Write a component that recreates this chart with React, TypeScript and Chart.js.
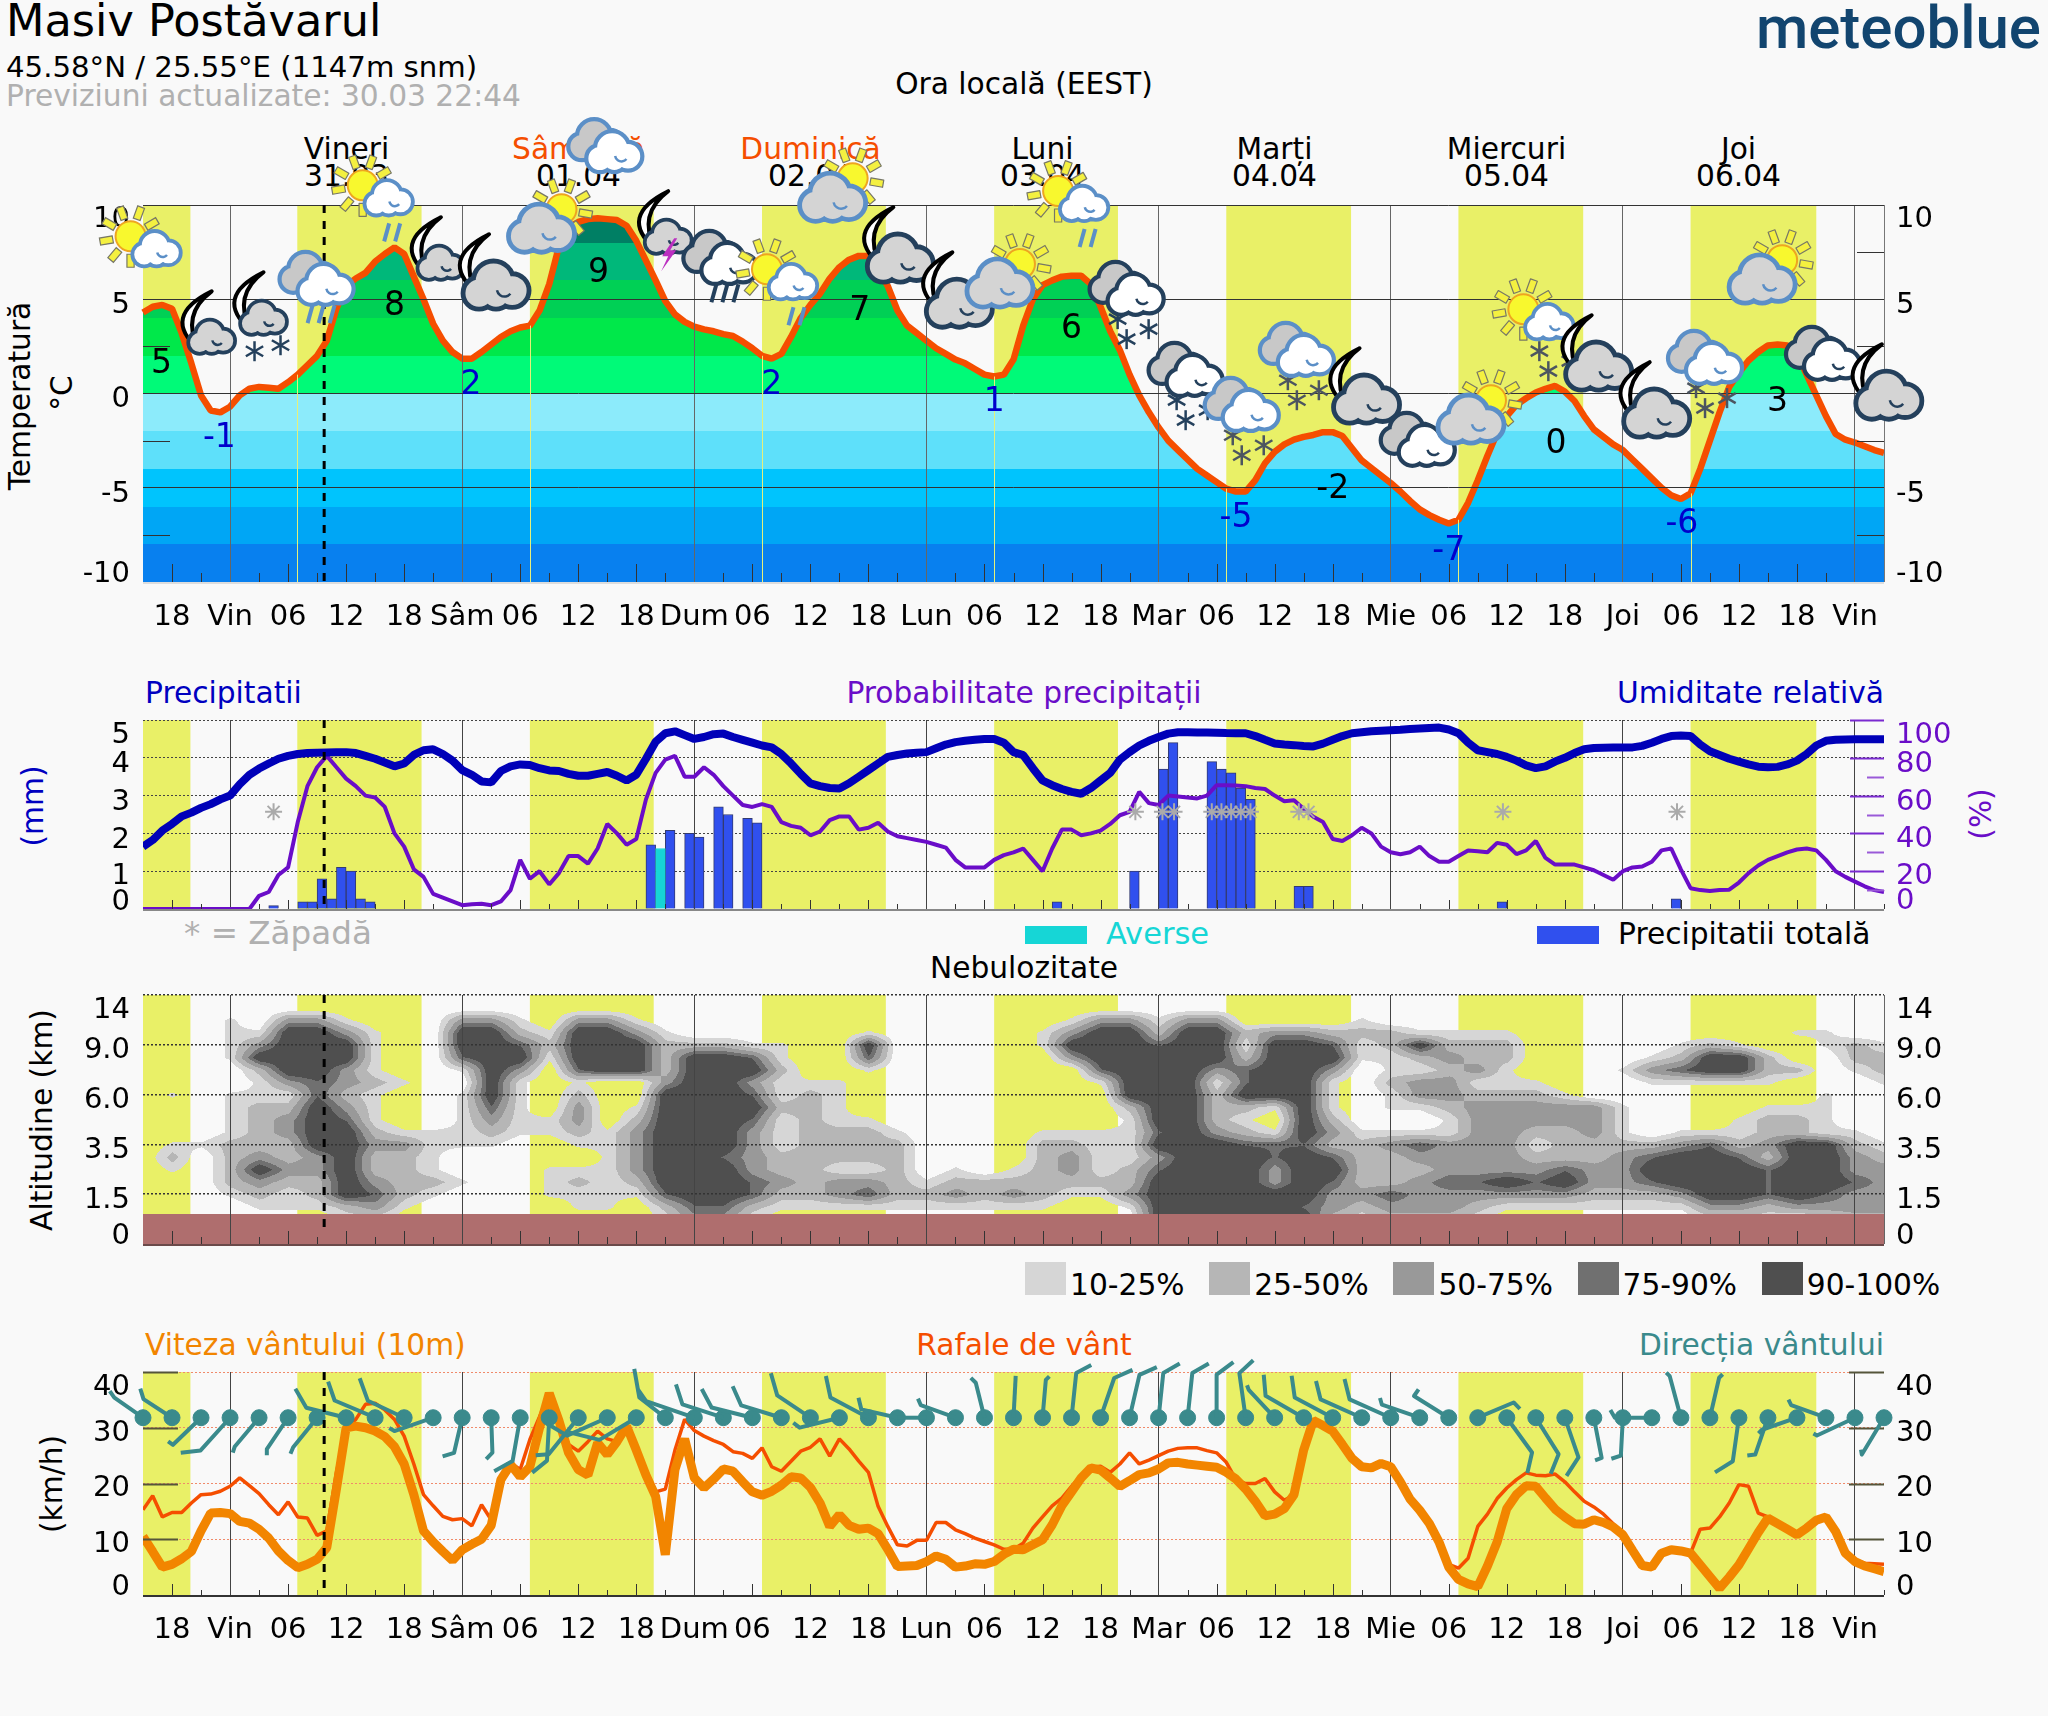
import React, { useEffect, useRef } from "react";
import { Chart, registerables } from "chart.js";
Chart.register(...registerables);

const hours: number[] = [];
for (let h = -9; h <= 171; h++) hours.push(h);

const dayBands = [[-9, -4.1], [6.95, 19.8], [31, 43.8], [55, 67.8], [79, 91.8], [103, 115.9], [127, 139.9], [151, 164]];
const nowHour = 9.73;
const xTickLabels = ["18", "Vin", "06", "12", "18", "Sâm", "06", "12", "18", "Dum", "06", "12", "18", "Lun", "06", "12", "18", "Mar", "06", "12", "18", "Mie", "06", "12", "18", "Joi", "06", "12", "18", "Vin"];

const temperature = [
  4.3, 4.6, 4.7, 4.5, 3.2, 1.6, -0.1, -0.9, -1.0, -0.7,
  -0.1, 0.25, 0.35, 0.3, 0.25, 0.6, 1.0, 1.5, 2.0, 2.8,
  4.5, 5.7, 6.1, 6.4, 7.0, 7.4, 7.75, 7.4, 6.2, 5.0,
  3.7, 2.8, 2.2, 1.85, 1.85, 2.2, 2.6, 3.0, 3.3, 3.5,
  3.6, 4.4, 5.8, 7.8, 8.8, 9.1, 9.25, 9.3, 9.25, 9.2,
  8.9, 8.1, 7.05, 6.0, 4.9, 4.2, 3.8, 3.55, 3.4, 3.3,
  3.15, 3.05, 2.75, 2.4, 2.0, 1.85, 2.1, 3.0, 4.0, 4.7,
  5.3, 6.1, 6.7, 7.1, 7.3, 7.3, 6.6, 5.7, 4.4, 3.6,
  3.2, 2.8, 2.4, 2.1, 1.8, 1.6, 1.3, 1.0, 0.9, 1.0,
  1.8, 3.6, 5.0, 5.75, 6.0, 6.2, 6.25, 6.25, 5.8, 4.6,
  3.3, 2.3, 1.0, -0.1, -1.0, -1.8, -2.5, -3.0, -3.5, -4.0,
  -4.35, -4.7, -5.05, -5.2, -5.2, -4.6, -3.7, -3.1, -2.7, -2.45,
  -2.3, -2.2, -2.05, -2.05, -2.25, -2.9, -3.55, -3.95, -4.35, -4.75,
  -5.2, -5.7, -6.15, -6.45, -6.7, -6.9, -6.7, -5.8, -4.6, -3.3,
  -2.1, -1.2, -0.6, -0.25, 0.05, 0.25, 0.4, 0.1, -0.4, -1.2,
  -1.9, -2.3, -2.7, -3.0, -3.5, -4.0, -4.5, -5.0, -5.4, -5.6,
  -5.3, -4.0, -2.5, -1.0, 0.35, 1.1, 1.75, 2.2, 2.55, 2.6,
  2.55, 2.1, 1.0, -0.1, -1.2, -2.15, -2.45, -2.6, -2.8, -3.0, -3.15,
];
const tempBandEdges = [-10, -8, -6, -4, -2, 0, 2, 4, 6, 8, 10];
const tempBandColors = ["#0880ef", "#00a6f5", "#00c4fd", "#5ee0fa", "#8cebfb", "#00fa78", "#00e84a", "#00d055", "#00b87a", "#007f64"];
const tempTickLabels = ["10", "5", "0", "-5", "-10"];
const tempLabelAt = [9.21, 4.65, -0.34, -5.34, -9.61];
const tempMinor = [7.5, 2.5, -2.5, -7.5];

const extremeHours = [-7.1, -1.1, 17, 24.9, 38.1, 56, 65.1, 79, 87, 104, 114, 126, 137.1, 150.1, 160];
const extremeText = ["5", "-1", "8", "2", "9", "2", "7", "1", "6", "-5", "-2", "-7", "0", "-6", "3"];
const extremeAt = [1.56, -2.39, 4.64, 0.45, 6.36, 0.45, 4.37, -0.46, 3.39, -6.64, -5.07, -8.36, -2.68, -6.96, -0.46];
const extremeIsLow = [0, 1, 0, 1, 0, 1, 0, 1, 0, 1, 0, 1, 0, 1, 0];

const iconHours = [-7.6, -1.9, 3.46, 9.05, 16.4, 21.8, 27.5, 32.2, 38.9, 45.3, 50.8, 58.2, 62.3, 69.3, 75.4, 79.6, 88.3, 92.8, 98.9, 104.7, 110.4, 117.5, 122.9, 128.3, 136.4, 141.5, 147.5, 152.6, 158.4, 164.8, 171.5];
const iconTemps = [7.6, 2.93, 3.94, 5.96, 10.3, 6.86, 5.64, 8.66, 13, 8.24, 7.07, 5.85, 10.3, 7.07, 4.68, 5.75, 10, 5.43, 1.13, -0.73, 2.19, -0.41, -2.58, -1.47, 3.73, 1.34, -1.15, 1.77, 5.96, 1.98, -0.2];
const iconKinds = ["sunSmall", "moonS", "moonS", "dblBlue", "sunSmall", "moonS", "moon", "sunGrey", "dblBlue", "moonS", "dblDark", "sunSmall", "sunGrey", "moon", "moon", "sunGrey", "sunSmall", "dblDark", "dblDark", "dblBlue", "dblBlue", "moon", "dblDark", "sunGrey", "sunSmall", "moon", "moon", "dblBlue", "sunGrey", "dblDark", "moon"];
const iconWeather = ["", "", "snow2", "rain3", "rain2", "", "", "", "", "bolt", "rain3", "rain2", "", "", "", "", "rain2", "snow", "snow", "snow", "snow", "", "", "", "snow", "", "", "snow", "", "", ""];

const humidity = [
  33, 36.5, 41.5, 45, 49, 51, 53.5, 55.5, 58, 60,
  66, 71, 74.3, 77, 79.5, 81, 82, 82.5, 82.7, 82.8,
  82.9, 83, 82.5, 81, 79.5, 77.5, 75.5, 77, 81.5, 84,
  84.5, 82, 78.5, 73.5, 71, 67.5, 67, 73, 75.5, 76.5,
  76.2, 74.5, 73.3, 73, 71.5, 70.5, 70.5, 71.5, 72.5, 70.5,
  68, 71, 79.5, 88.5, 93, 94, 92, 90, 91, 92.5,
  92.8, 91, 89.5, 88, 86.5, 85.5, 82, 77, 71.5, 66.5,
  65, 64, 63.8, 66.5, 70, 73.5, 77, 80.5, 81.5, 82.3,
  82.7, 83, 85, 87, 88.3, 89, 89.5, 90, 90, 88,
  83, 81.4, 74.5, 68, 65.5, 63.5, 62, 61, 64, 68,
  72, 79, 83, 86.5, 89, 91, 92.8, 93.5, 93.5, 93.4,
  93.4, 93.3, 93.1, 93, 93, 91.5, 89.5, 87.6, 87, 86.7,
  86.3, 86, 87.5, 89.5, 91.5, 93, 93.5, 94, 94.3, 94.6,
  94.8, 95.2, 95.5, 95.8, 96, 95, 93, 88, 84, 83,
  82, 80.5, 78.5, 76, 74.5, 75.5, 78, 80, 82.5, 84.5,
  85.2, 85.3, 85.4, 85.4, 85.5, 86.3, 88, 90, 91.5, 91.8,
  91.5, 87, 83.5, 81.5, 79.5, 78, 76.5, 75.3, 75, 75.2,
  76.5, 78.5, 82, 86.5, 89, 89.5, 89.7, 89.8, 89.8, 89.8, 89.8,
];
const precipProb = [
  0, 0, 0, 0, 0, 0, 0, 0, 0, 0,
  0, 0, 7, 9, 18, 22, 46, 65, 75, 81,
  75, 69, 65, 60, 59, 54, 40, 33, 21, 17,
  8, 6, 4, 2, 2.5, 2.8, 2, 4, 10, 26,
  16, 20, 13, 19, 28, 28, 24, 32, 45, 40,
  34, 37, 58, 72, 79, 81, 70, 70, 75, 71,
  65, 60, 55, 54, 55.5, 54, 46, 44, 43, 39,
  41, 47, 49, 49, 42, 43, 45.6, 41, 38.5, 37.5,
  36.5, 35.5, 34, 32.5, 26, 22, 22, 22, 26, 28.5,
  30, 32, 26, 20, 32, 42, 42, 39, 40, 41.5,
  45, 49.6, 51.4, 62, 56, 55, 60, 59.5, 59, 58.5,
  60, 65.5, 65.5, 65.3, 65, 64, 63.5, 60, 57, 57.5,
  53, 48.8, 46, 37, 36, 39, 43, 40, 33, 30,
  29, 30, 33, 28, 25, 25, 28, 31, 30.5, 30,
  35, 34, 29, 31, 36, 27, 23.5, 23.5, 23.5, 22,
  20.5, 18, 15.5, 20, 22, 22.5, 25, 31, 32, 21,
  11, 10, 9.5, 10, 10.2, 14, 19, 23, 26, 28,
  30, 31.5, 32, 31, 26, 20, 17, 14.5, 12, 10, 9,
];
const precipHours = [4, 7, 8, 9, 10, 11, 12, 13, 14, 43, 45, 47, 48, 50, 51, 53, 54, 85, 93, 96, 97, 101, 102, 103, 104, 105, 110, 111, 131, 149];
const precipMm = [0.09, 0.19, 0.19, 0.8, 0.27, 1.1, 1.0, 0.27, 0.19, 1.7, 2.08, 2.0, 1.9, 2.7, 2.5, 2.4, 2.28, 0.19, 1.0, 3.7, 4.4, 3.9, 3.7, 3.6, 3.2, 2.9, 0.6, 0.6, 0.19, 0.27];
const showerHours = [44];
const showerMm = [1.6];
const snowHours = [4.5, 93.6, 96.4, 97.6, 101.5, 102.5, 103.5, 104.5, 105.5, 110.5, 111.5, 131.6, 149.6];
const snowMark = 2.57;
const mmTickLabels = ["5", "4", "3", "2", "1", "0"];
const mmLabelAt = [4.59, 3.83, 2.81, 1.81, 0.85, 0.18];
const pctTickLabels = ["100", "80", "60", "40", "20", "0"];
const pctLabelAt = [91.9, 76.6, 56.6, 36.6, 17, 4.1];
const pctMajor = [100, 80, 60, 40, 20];
const pctMinor = [70, 50, 30, 10];

// cloud cover class per 3h column (61) and altitude row (19, top to bottom)
const cloudClass = [
  "0000000000000000000000000000000000000000000000000000000000000",
  "0000000000000000000000000000000000000000000000000000000000000",
  "000.033100033103310000000000000" + "013313300001000000000000000000",
  "00011553.0055215531000000.00000" + ".355255233222111.000000000.100",
  "000.35551005542555222" + "1.0050000" + "0" + "155545515541252220000012100121",
  "000155551004551555255410040000" + "0" + "035555525551123220000125520022",
  "000025531001530455255520010000" + "0" + "004555345530" + "1.2310001345522012",
  "000013432.00510100355311100000" + "0" + "0015551455" + "1023311100" + "011111000.",
  "0.0.1142.00.510200555412100000" + "0" + "0005552555" + "1013322210" + "0000000.00",
  "00012253100.410301555522100000" + "0" + "0002552215" + "10.1233333" + "1000011.00",
  "00012354100131.302555412110000" + "0" + "000.552105" + "2000133333" + "1000122.00",
  "0001235521.121.213555312221000" + "0" + "1111453215" + "3111133223" + "10111221.0",
  "0..22255331110011355" + "5312222000" + "0" + "2211555444" + "2234333122" + "2234235521",
  "02023235221000001355" + "4322222000" + "0" + "2311355545" + "4223333222" + "3455425532",
  "0.025335221000111355" + "5322112010" + "." + "2312455535" + "5222333343" + "3555545533",
  "00023225322.00121255" + "5432332122" + "2" + "2222555535" + "4223445453" + "3455545543",
  "00012125421000111.45" + "5422342232" + "3" + "2113555555" + "3343333332" + "2235545433",
  "0000.1123100000..024" + "4211111111" + "1" + "1001555554" + "3233321111" + "1113323333",
  "0000000.100000000013" + "3100000000" + "0" + "0000555555" + "2122210000" + "0001110122",
];
const cloudCuts = [0.8, 1.6, 2.5, 3.4, 4.1];
const cloudLegend = ["10-25%", "25-50%", "50-75%", "75-90%", "90-100%"];
const cloudColors = ["#d6d6d6", "#b6b6b6", "#999999", "#707070", "#4f4f4f"];
const altTickLabels = ["14", "9.0", "6.0", "3.5", "1.5", "0"];
const altLabelAt = [4.68, 3.88, 2.88, 1.87, 0.87, 0.16];
const terrainLevel = 0.6;

const windSpeed = [
  10.5, 7.8, 5, 5.5, 6.5, 7.8, 11.5, 14.7, 14.8, 14.6,
  13.2, 12.9, 11.8, 10.2, 7.9, 6.2, 4.9, 5.5, 6.4, 8.5,
  19, 30, 30.3, 30, 29.4, 28.4, 26.6, 23.5, 18, 11.5,
  9.5, 7.8, 6.2, 8.1, 9.1, 10, 12.5, 20.7, 23.4, 21.2,
  23, 30, 36.2, 31.3, 25.5, 22.5, 21.5, 27.3, 25.2, 27.5,
  30.3, 26, 21.5, 17.7, 7.2, 22.5, 28, 21, 19.2, 20.8,
  22.6, 22.2, 20.3, 18.5, 17.9, 18.6, 19.7, 21.2, 21, 19.3,
  16.5, 12.3, 14.4, 12.5, 11.8, 12, 11, 8.2, 5.1, 5.2,
  5.3, 6, 7, 6.4, 5, 5.2, 5.6, 5.5, 6, 7.3,
  8.2, 8.1, 9, 9.9, 12.6, 16, 18.5, 21, 22.8, 22.4,
  21, 19.5, 20.5, 21.6, 21.9, 22.6, 23.7, 23.8, 23.5, 23.3,
  23.1, 22.9, 22, 20.8, 19, 16.8, 14.2, 14.5, 15.5, 18,
  26, 31.3, 30.4, 29.4, 27, 24.5, 23, 22.8, 23.6, 23,
  20.3, 17.2, 15.2, 12.8, 9.5, 5, 2.8, 2, 1.5, 5.2,
  9.5, 15.5, 18, 19.6, 19.5, 17.4, 15.4, 14, 12.8, 12.7,
  13.5, 13, 12.2, 10.8, 8, 5.3, 5, 7.5, 8.1, 7.9,
  7.5, 5.4, 3.3, 1.2, 3.2, 5.4, 8.3, 11.2, 13.8, 12.8,
  11.8, 10.8, 12, 13.4, 14, 11.4, 7.5, 6, 5.2, 4.7, 4.2,
];
const windGust = [
  15.3, 17.8, 14, 14.8, 14.8, 16.5, 18, 18.1, 18.6, 19.5,
  21, 19.6, 18.2, 16.2, 14.4, 16.7, 14, 13.8, 10.7, 11.5,
  22, 30, 31.5, 34.2, 34.4, 33.2, 31.5, 28.5, 23.5, 18,
  16, 14.1, 13.5, 13.7, 12.4, 16.2, 13.5, 19.5, 23.7, 22.5,
  27.9, 32, 36.2, 32, 27, 25.8, 27.5, 29.4, 28, 27.5,
  30.3, 26, 22.5, 18.5, 19, 26, 31.5, 29.5, 28.5, 27.7,
  27, 25.7, 25.4, 24.5, 26.4, 23, 22.2, 24, 25.8, 26.5,
  28, 24.9, 28, 26.2, 24, 22, 15.9, 12.3, 9, 8.8,
  9.8, 9.8, 13, 13, 11.7, 11, 10.2, 9.6, 9, 8.2,
  8.2, 9.3, 12, 14, 16, 17.4, 19.5, 21.5, 22.9, 23.1,
  22, 23.5, 25.5, 23.5, 24.2, 25, 25.8, 26.3, 26.4, 26.4,
  25.9, 25.5, 23.8, 20.7, 20, 20, 20.9, 18.5, 17, 18,
  26, 31.3, 30.4, 29.4, 27, 24.5, 23, 22.8, 23.6, 23,
  20.3, 17.2, 15.2, 12.8, 9.5, 5.5, 4.8, 6.6, 12.3, 14.5,
  17.3, 19.2, 20.7, 21.9, 21.5, 21.4, 21.7, 20.3, 18.5, 16.8,
  15.8, 14.5, 12.8, 10.8, 8, 5.3, 5, 7.5, 8.1, 7.9,
  7.5, 11.8, 12, 14, 16.5, 19.8, 19.5, 14.7, 14, 12.8,
  11.8, 10.8, 12, 13.4, 14, 11.8, 8.2, 6.3, 5.7, 5.6, 5.5,
];
const windDir = [305, 303, 226, 222, 220, 214, 219, 284, 293, 295, 251, 193, 178, 190, 183, 219, 246, 239, 308, 289, 288, 284, 287, 304, 256, 298, 283, 270, 290, 346, 3, 5, 6, 19, 13, 6, 6, 0, 352, 317, 300, 298, 294, 294, 289, 302, 67, 144, 148, 161, 169, 183, 270, 345, 13, 188, 199, 251, 290, 245, 211];
const windShaft = [35, 34, 39, 44, 38, 38, 38, 41, 44, 40, 41, 36, 35, 44, 43, 47, 44, 43, 33, 51, 43, 42, 42, 40, 41, 43, 37, 29, 37, 36, 42, 38, 45, 42, 44, 45, 45, 43, 45, 38, 44, 43, 45, 45, 40, 41, 39, 43, 43, 42, 41, 38, 37, 43, 41, 44, 39, 37, 37, 42, 43];
const windTailDir = [325, 343, 306, 263, 198, 180, 203, 330, 341, 340, 300, 253, 224, 241, 231, 266, 301, 284, 350, 325, 342, 332, 336, 344, 308, 348, 346, 270, 337, 315, 3, 45, 62, 66, 66, 60, 60, 53, 47, 340, 355, 352, 346, 346, 344, 35, 136, 193, 202, 213, 250, 252, 330, 315, 45, 238, 263, 225, 333, 300, 350];
const windTail = [8, 11, 6, 20, 6, 6, 7, 22, 20, 24, 6, 12, 9, 21, 19, 13, 23, 32, 29, 14, 21, 21, 21, 23, 8, 22, 12, 0, 7, 7, 0, 5, 17, 20, 19, 19, 19, 21, 19, 5, 21, 22, 19, 21, 7, 8, 9, 21, 21, 22, 7, 10, 9, 5, 5, 21, 8, 5, 6, 4, 5];
const barbLevel = 31.8;
const windTickLabels = ["40", "30", "20", "10", "0"];
const windLabelAt = [37.23, 29.03, 19.03, 9.13, 1.38];
const windMajor = [40, 30, 20, 10];

const YELLOW = "#e9f067";
const PAGE = "#f9f9f9";
const TEAL = "#3a8a8c";
const BLUE = "#0000c0";
const PURPLE = "#6a0dc8";
const ORANGE = "#f28500";
const RED = "#f54e00";
const DAYBORDER = "#5b8fc7";
const NIGHTBORDER = "#24405c";
const tickFont = { family: "'DejaVu Sans'", size: 29 };
const W = 2048;
const PH = 1716;

const pts = (a: number[]) => a.map((y, i) => ({ x: hours[i], y }));
const rad = (d: number) => (d * Math.PI) / 180;

function drawCloud(c: any, x: number, y: number, s: number, fill: string, stroke: string, curl = true) {
  const lumps = [[-20, 7, 16], [-3, -7, 21], [19, 4, 17], [0, 8, 15]];
  const path = () => {
    c.beginPath();
    for (const [a, b, r] of lumps) {
      c.moveTo(x + (a + r) * s, y + b * s);
      c.arc(x + a * s, y + b * s, r * s, 0, Math.PI * 2);
    }
  };
  c.lineJoin = "round";
  path();
  c.strokeStyle = stroke;
  c.lineWidth = 9 * s + 2;
  c.stroke();
  path();
  c.fillStyle = fill;
  c.fill();
  if (curl) {
    c.beginPath();
    c.arc(x + 10 * s, y + 2 * s, 9 * s, rad(170), rad(40), true);
    c.strokeStyle = stroke;
    c.lineWidth = 2.5;
    c.stroke();
  }
}
function drawSun(c: any, x: number, y: number) {
  for (let i = 0; i < 9; i++) {
    const a = rad(i * 40 + 10);
    const ux = Math.cos(a), uy = Math.sin(a);
    const px = -uy * 3.6, py = ux * 3.6;
    c.beginPath();
    c.moveTo(x + ux * 18 + px, y + uy * 18 + py);
    c.lineTo(x + ux * 31 + px, y + uy * 31 + py);
    c.lineTo(x + ux * 31 - px, y + uy * 31 - py);
    c.lineTo(x + ux * 18 - px, y + uy * 18 - py);
    c.closePath();
    c.fillStyle = "#f4f040";
    c.fill();
    c.strokeStyle = "#777766";
    c.lineWidth = 1.2;
    c.stroke();
  }
  c.beginPath();
  c.arc(x, y, 15, 0, Math.PI * 2);
  c.fillStyle = "#f8f82e";
  c.fill();
  c.strokeStyle = "#eea520";
  c.lineWidth = 2;
  c.stroke();
}
function drawMoon(c: any, x: number, y: number) {
  c.beginPath();
  c.moveTo(x + 17, y - 29);
  c.quadraticCurveTo(x - 34, y - 4, x + 4, y + 29);
  c.quadraticCurveTo(x - 14, y - 6, x + 17, y - 29);
  c.closePath();
  c.fillStyle = "#ffffff";
  c.fill();
  c.strokeStyle = "#000000";
  c.lineWidth = 4;
  c.stroke();
}
function drawFlake(c: any, x: number, y: number, color: string) {
  c.strokeStyle = color;
  c.lineWidth = 2.5;
  for (let i = 0; i < 3; i++) {
    const a = rad(90 + i * 60);
    c.beginPath();
    c.moveTo(x - Math.cos(a) * 10, y - Math.sin(a) * 10);
    c.lineTo(x + Math.cos(a) * 10, y + Math.sin(a) * 10);
    c.stroke();
  }
}
function drawIcon(c: any, x: number, y: number, kind: string, wx: string) {
  const dark = kind === "dblDark" || kind.startsWith("moon");
  const col = dark ? NIGHTBORDER : DAYBORDER;
  if (wx === "rain2" || wx === "rain3") {
    const n = wx === "rain2" ? 2 : 3;
    c.strokeStyle = col;
    c.lineWidth = 4;
    for (let i = 0; i < n; i++) {
      const ox = (i - (n - 1) / 2) * 11 + 3;
      c.beginPath();
      c.moveTo(x + ox + 3, y + 24);
      c.lineTo(x + ox - 2, y + 42);
      c.stroke();
    }
  }
  if (wx === "snow") {
    const fc = kind === "dblBlue" || kind === "sunSmall" ? "#4c5560" : NIGHTBORDER;
    drawFlake(c, x - 10, y + 28, fc);
    drawFlake(c, x - 1, y + 48, fc);
    drawFlake(c, x + 21, y + 38, fc);
  }
  if (wx === "snow2") {
    drawFlake(c, x - 9, y + 32, NIGHTBORDER);
    drawFlake(c, x + 17, y + 26, NIGHTBORDER);
  }
  if (kind === "sunSmall") {
    drawSun(c, x - 26, y - 14);
    drawCloud(c, x, y, 0.62, "#ffffff", DAYBORDER);
  } else if (kind === "sunGrey") {
    drawSun(c, x + 20, y - 21);
    drawCloud(c, x, y, 0.85, "#d4d4d4", DAYBORDER);
  } else if (kind === "moon") {
    drawMoon(c, x - 24, y - 24);
    drawCloud(c, x, y, 0.85, "#d4d4d4", NIGHTBORDER);
  } else if (kind === "moonS") {
    drawMoon(c, x - 17, y - 18);
    drawCloud(c, x, y, 0.6, "#d4d4d4", NIGHTBORDER);
  } else {
    drawCloud(c, x - 10, y - 7, 0.72, "#c8c8c8", col, false);
    drawCloud(c, x + 8, y + 5, 0.72, "#ffffff", col);
  }
  if (wx === "bolt") {
    c.beginPath();
    c.moveTo(x + 6, y);
    c.lineTo(x - 6, y + 18);
    c.lineTo(x, y + 18);
    c.lineTo(x - 7, y + 33);
    c.lineTo(x + 8, y + 12);
    c.lineTo(x + 2, y + 12);
    c.lineTo(x + 9, y);
    c.closePath();
    c.fillStyle = "#bb30c0";
    c.fill();
  }
}

function panelPlugin(cfg: any) {
  return {
    id: "panel" + cfg.name,
    beforeDraw(chart: any) {
      const { ctx, chartArea: a, scales } = chart;
      const x = scales.x;
      ctx.save();
      ctx.fillStyle = YELLOW;
      for (const [s, e] of dayBands) {
        const l = x.getPixelForValue(s), r = x.getPixelForValue(e);
        ctx.fillRect(l, a.top, r - l, a.bottom - a.top);
      }
      if (cfg.clouds) {
        const y = scales.y;
        const w = Math.ceil(a.right - a.left), h = Math.ceil(a.bottom - a.top);
        const off = document.createElement("canvas");
        off.width = w;
        off.height = h;
        const oc = off.getContext("2d") as CanvasRenderingContext2D;
        const img = oc.createImageData(w, h);
        const vals = cloudClass.map((r) => Array.from(r).map((ch) => (ch === "." ? 1 : Number(ch))));
        const rgb = cloudColors.map((s) => [parseInt(s.slice(1, 3), 16), parseInt(s.slice(3, 5), 16), parseInt(s.slice(5, 7), 16)]);
        for (let py = 0; py < h; py++) {
          const idx = y.getValueForPixel(a.top + py);
          const rf = Math.min(cloudClass.length - 1.001, Math.max(0, (5 - idx) / 0.25));
          const r0 = Math.floor(rf), ry = rf - r0;
          for (let px = 0; px < w; px++) {
            const hv = x.getValueForPixel(a.left + px);
            const cf = Math.min(59.999, Math.max(0, (hv + 9) / 3));
            const c0 = Math.floor(cf), cx = cf - c0;
            const r1 = vals[r0], r2 = vals[r0 + 1];
            const g = (r1[c0] || 0) * (1 - cx) * (1 - ry) + (r1[c0 + 1] || 0) * cx * (1 - ry) + (r2[c0] || 0) * (1 - cx) * ry + (r2[c0 + 1] || 0) * cx * ry;
            if (g < cloudCuts[0]) continue;
            let cls = 0;
            while (cls < 4 && g >= cloudCuts[cls + 1]) cls++;
            const p = (py * w + px) * 4;
            img.data[p] = rgb[cls][0];
            img.data[p + 1] = rgb[cls][1];
            img.data[p + 2] = rgb[cls][2];
            img.data[p + 3] = 255;
          }
        }
        oc.putImageData(img, 0, 0);
        ctx.drawImage(off, a.left, a.top);
      }
      ctx.restore();
    },
    afterDraw(chart: any) {
      const { ctx, chartArea: a, scales } = chart;
      const x = scales.x;
      ctx.save();
      if (cfg.sunriseLines) {
        const y = scales.y;
        ctx.strokeStyle = "#e6f07a";
        ctx.lineWidth = 1;
        for (const [s] of dayBands.slice(1)) {
          const t = temperature[Math.round(s) + 9];
          const px = Math.round(x.getPixelForValue(s)) + 0.5;
          ctx.beginPath();
          ctx.moveTo(px, y.getPixelForValue(t));
          ctx.lineTo(px, a.bottom);
          ctx.stroke();
        }
      }
      // inward time ticks
      ctx.strokeStyle = cfg.tickColor || "#333333";
      ctx.lineWidth = 1;
      for (let h = -6; h <= 171; h += 3) {
        if (h % 24 === 0) continue;
        const px = Math.round(x.getPixelForValue(h)) + 0.5;
        const len = h % 6 === 0 ? cfg.tickLong : cfg.tickShort;
        ctx.beginPath();
        ctx.moveTo(px, a.bottom);
        ctx.lineTo(px, a.bottom - len);
        ctx.stroke();
      }
      ctx.strokeStyle = cfg.baseColor;
      ctx.lineWidth = cfg.baseWidth;
      ctx.beginPath();
      ctx.moveTo(a.left, a.bottom + cfg.baseWidth / 2);
      ctx.lineTo(a.right, a.bottom + cfg.baseWidth / 2);
      ctx.stroke();
      if (cfg.rightLine) {
        ctx.strokeStyle = cfg.rightLine;
        ctx.lineWidth = 1;
        ctx.beginPath();
        ctx.moveTo(a.right + 0.5, a.top);
        ctx.lineTo(a.right + 0.5, a.bottom);
        ctx.stroke();
      }
      for (const m of cfg.marks || []) {
        const sc = scales[m.axis];
        ctx.strokeStyle = m.color;
        ctx.lineWidth = m.width;
        for (const v of m.values) {
          const py = Math.round(sc.getPixelForValue(v)) + 0.5;
          ctx.beginPath();
          if (m.left) {
            ctx.moveTo(a.left, py);
            ctx.lineTo(a.left + m.len, py);
          }
          if (m.right) {
            ctx.moveTo(a.right, py);
            ctx.lineTo(a.right - m.len, py);
          }
          ctx.stroke();
        }
      }
      if (cfg.barbs) {
        const y = scales.y;
        const py = y.getPixelForValue(barbLevel);
        ctx.strokeStyle = TEAL;
        ctx.lineWidth = 4;
        ctx.lineJoin = "round";
        windDir.forEach((d, i) => {
          const px = x.getPixelForValue(-9 + 3 * i);
          const ex = px + Math.sin(rad(d)) * windShaft[i];
          const ey = py - Math.cos(rad(d)) * windShaft[i];
          const fx = ex + Math.sin(rad(windTailDir[i])) * windTail[i];
          const fy = ey - Math.cos(rad(windTailDir[i])) * windTail[i];
          ctx.beginPath();
          ctx.moveTo(px, py);
          ctx.lineTo(ex, ey);
          ctx.lineTo(fx, fy);
          ctx.stroke();
        });
      }
      // current time
      const nx = x.getPixelForValue(nowHour);
      ctx.strokeStyle = "#000000";
      ctx.lineWidth = 3;
      ctx.setLineDash([8, 8]);
      ctx.beginPath();
      ctx.moveTo(nx, a.top);
      ctx.lineTo(nx, a.bottom - (cfg.nowStop || 0));
      ctx.stroke();
      ctx.setLineDash([]);
      if (cfg.icons) {
        const y = scales.y;
        ctx.font = "33px 'DejaVu Sans'";
        ctx.textAlign = "center";
        ctx.textBaseline = "middle";
        extremeHours.forEach((h, i) => {
          ctx.fillStyle = extremeIsLow[i] ? "#0000cc" : "#000000";
          ctx.fillText(extremeText[i], x.getPixelForValue(h), y.getPixelForValue(extremeAt[i]));
        });
        iconHours.forEach((h, i) => {
          drawIcon(ctx, x.getPixelForValue(h), y.getPixelForValue(iconTemps[i]), iconKinds[i], iconWeather[i]);
        });
      }
      ctx.restore();
    },
  };
}

const labelAxis = (position: string, width: number, min: number, max: number, at: number[], labels: string[], color: string) => ({
  axis: "y",
  type: "linear",
  position,
  min,
  max,
  afterFit: (s: any) => { s.width = width; },
  afterBuildTicks: (s: any) => { s.ticks = at.map((value) => ({ value })); },
  grid: { display: false, drawTicks: false },
  border: { display: false },
  ticks: { autoSkip: false, padding: position === "left" ? 13 : 12, color, font: tickFont, callback: (_v: number, i: number) => labels[i] },
});

const xAxis = (height: number, showLabels: boolean, z: number, midnight: string) => ({
  type: "linear",
  position: "bottom",
  min: -9,
  max: 171,
  offset: false,
  afterFit: (s: any) => { s.height = height; },
  afterBuildTicks: (s: any) => {
    const t: any[] = [];
    for (let h = -9; h <= 171; h += 3) t.push({ value: h });
    s.ticks = t;
  },
  grid: {
    offset: false,
    z,
    drawTicks: false,
    lineWidth: 1,
    color: (c: any) => (c.tick && c.tick.value % 24 === 0 ? midnight : "transparent"),
  },
  border: { display: false },
  ticks: {
    display: showLabels,
    autoSkip: false,
    maxRotation: 0,
    minRotation: 0,
    padding: 18,
    color: "#000000",
    font: tickFont,
    callback: (v: number) => (v % 6 === 0 && v >= -6 && v <= 168 ? xTickLabels[(v + 6) / 6] : ""),
  },
});

const mainY = (min: number, max: number, step: number, z: number, color: any, dash: number[] | undefined, lineWidth = 1) => ({
  axis: "y",
  type: "linear",
  position: "left",
  min,
  max,
  afterFit: (s: any) => { s.width = 0; },
  ticks: { display: false, stepSize: step },
  grid: { z, drawTicks: false, color, lineWidth },
  border: { display: false, dash },
});

function makeChart(canvas: HTMLCanvasElement, top: number, bottom: number, xh: number, datasets: any[], scales: any, cfg: any) {
  return new Chart(canvas, {
    type: "line",
    data: { datasets },
    options: {
      responsive: false,
      animation: false,
      devicePixelRatio: 1,
      events: [],
      parsing: true,
      layout: { padding: { top, bottom: PH - bottom - xh, left: 0, right: 0 } },
      plugins: { legend: { display: false }, tooltip: { enabled: false }, title: { display: false } },
      elements: { point: { radius: 0 }, line: { borderJoinStyle: "bevel" } },
      scales,
    } as any,
    plugins: [panelPlugin(cfg)],
  } as any);
}

const Txt = ({ x, y, t, c = "#000", s = 29.7, a = "l", r = 0, f = "'DejaVu Sans'", w = 400 }: any) => {
  const tx = a === "l" ? "0" : a === "r" ? "-100%" : "-50%";
  return (
    <span style={{ position: "absolute", left: x, top: y, color: c, fontSize: s, fontFamily: f, fontWeight: w, lineHeight: 1, whiteSpace: "nowrap", transform: `translate(${tx},-50%) rotate(${r}deg)` }}>{t}</span>
  );
};
const Box = ({ x, y, w, h, c }: any) => <div style={{ position: "absolute", left: x, top: y, width: w, height: h, background: c }} />;

const dayNames = ["Vineri", "Sâmbătă", "Duminică", "Luni", "Marți", "Miercuri", "Joi"];
const dayDates = ["31.03", "01.04", "02.04", "03.04", "04.04", "05.04", "06.04"];
const dayColors = ["#000", RED, RED, "#000", "#000", "#000", "#000"];

export default function App() {
  const r1 = useRef<HTMLCanvasElement>(null);
  const r2 = useRef<HTMLCanvasElement>(null);
  const r3 = useRef<HTMLCanvasElement>(null);
  const r4 = useRef<HTMLCanvasElement>(null);
  useEffect(() => {
    const charts: any[] = [];
    charts.push(makeChart(r1.current!, 205, 582, 50, [
      {
        label: "Temperatură",
        data: pts(temperature),
        borderColor: RED,
        borderWidth: 6.5,
        tension: 0,
        fill: "start",
        clip: false,
        backgroundColor: (c: any) => {
          const ch = c.chart;
          if (!ch.chartArea) return "transparent";
          const y = ch.scales.y;
          const y0 = y.getPixelForValue(-10), y1 = y.getPixelForValue(10);
          const g = ch.ctx.createLinearGradient(0, y0, 0, y1);
          tempBandColors.forEach((col, i) => {
            const a = (tempBandEdges[i] + 10) / 20, b = (tempBandEdges[i + 1] + 10) / 20;
            g.addColorStop(a, col);
            g.addColorStop(b, col);
          });
          return g;
        },
      },
    ], {
      x: xAxis(50, true, 1, "#666666"),
      y: mainY(-10, 10, 5, 1, (c: any) => (c.tick && c.tick.value === -10 ? "transparent" : "#333333")),
      yl: labelAxis("left", 143, -10, 10, tempLabelAt, tempTickLabels, "#000"),
      yr: labelAxis("right", 164, -10, 10, tempLabelAt, tempTickLabels, "#000"),
    }, {
      name: "t", icons: true, sunriseLines: true, tickLong: 18, tickShort: 9, baseColor: "#dddddd", baseWidth: 2, rightLine: "#777777",
      marks: [{ axis: "y", values: tempMinor, color: "#333333", width: 1, left: true, right: true, len: 27 }],
    }));

    const barBase = { type: "bar", barThickness: 9.7, grouped: false, yAxisID: "y", borderWidth: 1 };
    charts.push(makeChart(r2.current!, 720, 909, 0, [
      { type: "scatter", label: "Zăpadă", order: 0, yAxisID: "y", showLine: false, data: snowHours.map((x) => ({ x, y: snowMark })), pointStyle: "star", pointRadius: 8.5, pointBorderColor: "#aaaaaa", pointBorderWidth: 2, pointBackgroundColor: "#aaaaaa" },
      { label: "Umiditate relativă", order: 1, yAxisID: "y1", data: pts(humidity), borderColor: "#0000b8", borderWidth: 8, tension: 0 },
      { label: "Probabilitate precipitații", order: 2, yAxisID: "y1", data: pts(precipProb), borderColor: PURPLE, borderWidth: 4, tension: 0, clip: false },
      { ...barBase, label: "Averse", order: 3, data: showerHours.map((h, i) => ({ x: h + 0.5, y: showerMm[i] })), backgroundColor: "#16d6d6", borderColor: "#16d6d6" },
      { ...barBase, label: "Precipitatii totală", order: 4, data: precipHours.map((h, i) => ({ x: h + 0.5, y: precipMm[i] })), backgroundColor: "#3050ee", borderColor: "#333a70" },
    ], {
      x: xAxis(0, false, 0, "#444444"),
      y: mainY(0, 5, 1, 0, (c: any) => (c.tick && c.tick.value === 0 ? "transparent" : "#444444"), [2, 2]),
      y1: { axis: "y", type: "linear", position: "right", min: 0, max: 100, afterFit: (s: any) => { s.width = 0; }, ticks: { display: false }, grid: { display: false, drawTicks: false }, border: { display: false } },
      yl: labelAxis("left", 143, 0, 5, mmLabelAt, mmTickLabels, "#000"),
      yr: labelAxis("right", 164, 0, 100, pctLabelAt, pctTickLabels, PURPLE),
    }, {
      name: "p", tickLong: 9, tickShort: 5, baseColor: "#888888", baseWidth: 2, nowStop: 4,
      marks: [
        { axis: "y1", values: pctMajor, color: "#7a2ad0", width: 2, right: true, len: 34 },
        { axis: "y1", values: pctMinor, color: "#9a5ad8", width: 2, right: true, len: 17 },
      ],
    }));

    charts.push(makeChart(r3.current!, 995, 1244, 0, [
      { label: "Teren", data: hours.map((x) => ({ x, y: terrainLevel })), borderWidth: 0, fill: "start", backgroundColor: "#af6e6e", tension: 0 },
    ], {
      x: xAxis(0, false, 1, "#444444"),
      y: mainY(0, 5, 1, 1, (c: any) => (c.tick && c.tick.value === 0 ? "transparent" : "#333333"), [2, 2], 1.5),
      yl: labelAxis("left", 143, 0, 5, altLabelAt, altTickLabels, "#000"),
      yr: labelAxis("right", 164, 0, 5, altLabelAt, altTickLabels, "#000"),
    }, {
      name: "c", clouds: true, tickLong: 13, tickShort: 7, baseColor: "#6b4a4a", baseWidth: 2, nowStop: 9, rightLine: "#666666",
    }));

    charts.push(makeChart(r4.current!, 1372, 1595, 50, [
      { type: "scatter", label: "Direcția vântului", order: 0, showLine: false, data: windDir.map((_d, i) => ({ x: -9 + 3 * i, y: barbLevel })), pointRadius: 8, pointBackgroundColor: TEAL, pointBorderColor: TEAL, clip: false },
      { label: "Viteza vântului (10m)", order: 1, data: pts(windSpeed), borderColor: ORANGE, borderWidth: 9, tension: 0 },
      { label: "Rafale de vânt", order: 2, data: pts(windGust), borderColor: RED, borderWidth: 3.5, tension: 0 },
    ], {
      x: xAxis(50, true, 0, "#444444"),
      y: mainY(0, 40, 10, 0, (c: any) => (c.tick && c.tick.value === 0 ? "transparent" : "#f08a6a"), [2, 2]),
      yl: labelAxis("left", 143, 0, 40, windLabelAt, windTickLabels, "#000"),
      yr: labelAxis("right", 164, 0, 40, windLabelAt, windTickLabels, "#000"),
    }, {
      name: "w", barbs: true, tickLong: 11, tickShort: 5, baseColor: "#333333", baseWidth: 2,
      marks: [{ axis: "y", values: windMajor, color: "#55553a", width: 2, left: true, right: true, len: 35 }],
    }));
    return () => charts.forEach((c) => c.destroy());
  }, []);

  const cv: any = { position: "absolute", left: 0, top: 0 };
  return (
    <div style={{ position: "absolute", left: 0, top: 0, width: W, height: PH, background: PAGE, overflow: "hidden" }}>
      <Txt x={6} y={21} t="Masiv Postăvarul" s={44.6} />
      <Txt x={6} y={68} t="45.58°N / 25.55°E (1147m snm)" s={29.2} />
      <Txt x={6} y={96} t="Previziuni actualizate: 30.03 22:44" c="#b0b0b0" />
      <Txt x={2041} y={28} a="r" t="meteoblue" c="#12456f" s={60} f="Roboto" w={500} />
      <Txt x={1024} y={84} a="c" t="Ora locală (EEST)" />
      {dayNames.map((n, i) => (
        <React.Fragment key={n}>
          <Txt x={346.5 + 232 * i} y={149} a="c" t={n} c={dayColors[i]} />
          <Txt x={346.5 + 232 * i} y={176} a="c" t={dayDates[i]} />
        </React.Fragment>
      ))}
      <Txt x={20} y={396} a="c" t="Temperatură" r={-90} />
      <Txt x={62} y={393} a="c" t="°C" r={-90} />
      <Txt x={145} y={693} t="Precipitatii" c={BLUE} />
      <Txt x={1024} y={693} a="c" t="Probabilitate precipitații" c={PURPLE} />
      <Txt x={1884} y={693} a="r" t="Umiditate relativă" c={BLUE} />
      <Txt x={33} y={806} a="c" t="(mm)" c={BLUE} r={-90} />
      <Txt x={1981} y={814} a="c" t="(%)" c={PURPLE} r={-90} />
      <Txt x={184} y={933} t="* = Zăpadă" c="#b0b0b0" s={32.6} />
      <Box x={1025} y={926} w={62} h={18} c="#16d6d6" />
      <Txt x={1106} y={934} t="Averse" c="#16d6d6" s={30.5} />
      <Box x={1537} y={926} w={62} h={18} c="#3050ee" />
      <Txt x={1618} y={934} t="Precipitatii totală" />
      <Txt x={1024} y={968} a="c" t="Nebulozitate" />
      <Txt x={42} y={1120} a="c" t="Altitudine (km)" r={-90} />
      {cloudLegend.map((t, i) => (
        <React.Fragment key={t}>
          <Box x={1025 + 184.2 * i} y={1262} w={41} h={33} c={cloudColors[i]} />
          <Txt x={1070 + 184.2 * i} y={1285} t={t} />
        </React.Fragment>
      ))}
      <Txt x={145} y={1345} t="Viteza vântului (10m)" c={ORANGE} />
      <Txt x={1024} y={1345} a="c" t="Rafale de vânt" c={RED} />
      <Txt x={1884} y={1345} a="r" t="Direcția vântului" c={TEAL} />
      <Txt x={52} y={1484} a="c" t="(km/h)" r={-90} />
      <canvas ref={r1} width={W} height={PH} style={cv} />
      <canvas ref={r2} width={W} height={PH} style={cv} />
      <canvas ref={r3} width={W} height={PH} style={cv} />
      <canvas ref={r4} width={W} height={PH} style={cv} />
    </div>
  );
}
